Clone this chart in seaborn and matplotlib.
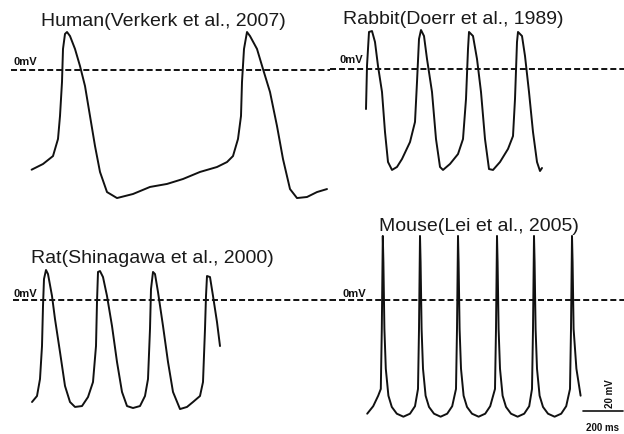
import matplotlib
matplotlib.use("Agg")
import matplotlib.pyplot as plt
import seaborn as sns

# Action potential traces (time in ms, potential in mV)
human_t = [103, 160, 210, 235, 245, 255, 260, 270, 280, 295, 320, 345, 370, 395, 420, 445,
           480, 530, 610, 695, 780, 860, 945, 1030, 1080, 1110, 1135, 1150, 1155, 1165, 1180,
           1195, 1230, 1260, 1295, 1330, 1360, 1395, 1430, 1480, 1530, 1580]
human_v = [-66.8, -63, -57.7, -46.3, -31, -8.3, 13.7, 23.7, 25, 22.3, 13.7, 2.3, -11, -31, -51,
           -68.3, -81.7, -85.7, -83, -78.3, -76.3, -73, -68.3, -65, -61.7, -57.7, -46.3, -31,
           -8.3, 13.7, 25, 22.3, 13.7, 0.3, -15, -37.7, -59.7, -79.7, -85.7, -85, -81.7, -79.7]

rabbit_t = [180, 185, 195, 210, 225, 240, 260, 275, 290, 310, 335, 360, 400, 425, 435, 445,
            455, 470, 485, 510, 530, 550, 565, 600, 640, 665, 680, 690, 695, 715, 735, 755,
            775, 795, 815, 850, 890, 915, 925, 935, 940, 960, 975, 995, 1015, 1035, 1050, 1060]
rabbit_v = [-26.7, 2, 24.7, 25.3, 18, 2, -15.3, -42, -62, -67.3, -65.3, -60, -48.7, -35.3,
            -8.7, 20, 26, 22, 6.7, -15.3, -46.7, -65.3, -67.3, -63.3, -56.7, -46.7, -20, 13.3,
            24.7, 22, 6.7, -15.3, -46.7, -66.7, -67.3, -62, -53.3, -44.7, -20, 18, 24.7, 22,
            8.7, -15.3, -42, -62, -68, -66]

rat_t = [95, 120, 135, 145, 150, 155, 165, 175, 195, 210, 235, 260, 285, 310, 345, 375, 400,
         415, 420, 425, 435, 450, 470, 495, 520, 545, 570, 600, 635, 660, 675, 685, 690, 700,
         710, 725, 750, 775, 800, 835, 870, 900, 935, 950, 960, 965, 970, 985, 1000, 1020, 1035]
rat_v = [-68.2, -64.2, -52.9, -30.9, -4.2, 13.8, 19.8, 17.1, 2.5, -12.9, -34.9, -57.5, -68.2,
         -71.5, -70.9, -64.9, -54.9, -30.9, -1.5, 18.5, 19.1, 15.1, 2.5, -17.5, -41.5, -61.5,
         -70.9, -72.2, -70.9, -64.2, -52.9, -19.5, 7.1, 18.5, 17.1, 5.1, -17.5, -41.5, -61.5,
         -72.9, -71.5, -68.2, -64.2, -54.9, -19.5, 2.5, 15.8, 15.1, 2.5, -14.9, -30.9]

mouse_t = [186, 216, 241, 254,
           259, 264, 267, 272, 279, 292, 309, 334, 367, 400, 425,
           440, 445, 450, 453, 458, 465, 478, 495, 520, 553, 586, 611,
           630, 635, 640, 643, 648, 655, 668, 685, 710, 743, 776, 801,
           825, 830, 835, 838, 843, 850, 863, 880, 905, 938, 971, 996,
           1010, 1015, 1020, 1023, 1028, 1035, 1048, 1065, 1090, 1123, 1156, 1181,
           1200, 1205, 1210, 1213, 1218, 1232, 1253]
mouse_v = [-76, -71, -64, -59.5,
           -19.5, 42.5, 25, -19.5, -46, -64, -71.5, -76, -78, -76, -71,
           -59.5, -19.5, 42.5, 25, -19.5, -46, -64, -71.5, -76, -78, -76, -71,
           -59.5, -19.5, 42.5, 25, -19.5, -46, -64, -71.5, -76, -78, -76, -71,
           -59.5, -19.5, 42.5, 25, -19.5, -46, -64, -71.5, -76, -78, -76, -71,
           -59.5, -19.5, 42.5, 25, -19.5, -46, -64, -71.5, -76, -78, -76, -71,
           -59.5, -19.5, 42.5, 25, -19.5, -46, -64]

titles = ["Human(Verkerk et al., 2007)", "Rabbit(Doerr et al., 1989)",
          "Rat(Shinagawa et al., 2000)", "Mouse(Lei et al., 2005)"]
scale_ms = 200
scale_mv = 20

sns.set_style("white")
plt.rcParams["font.family"] = ["Liberation Sans", "DejaVu Sans"]

W, H = 624, 435
MS_PER_PX = 5.0       # 200 ms scale bar is 40 px wide
MV_PER_PX = 2 / 3     # 20 mV is about 30 px tall
INK = "#111111"

fig = plt.figure(figsize=(W / 100, H / 100), dpi=100)


def add_panel(left, right, top, bottom, zero_y):
    ax = fig.add_axes([left / W, 1 - bottom / H, (right - left) / W, (bottom - top) / H])
    ax.set_xlim(0, (right - left) * MS_PER_PX)
    ax.set_ylim((zero_y - bottom) * MV_PER_PX, (zero_y - top) * MV_PER_PX)
    ax.axis("off")
    return ax


def px_text(x, y, s, **kw):
    fig.text(x / W, 1 - y / H, s, **kw)


# panel boxes in pixels: left, right, top, bottom, y of the 0 mV line
boxes = [(11, 330, 25, 215, 70.5), (330, 624, 25, 215, 70),
         (13, 330, 255, 435, 300.7), (330, 624, 232, 435, 300.7)]
traces = [(human_t, human_v), (rabbit_t, rabbit_v), (rat_t, rat_v), (mouse_t, mouse_v)]
title_xy = [(163, 26), (453, 24), (152, 263), (479, 231)]
zero_xy = [(13, 65), (340, 63), (13, 297), (342, 297)]

axes = []
for box, (t, v), txy, zxy, title in zip(boxes, traces, title_xy, zero_xy, titles):
    ax = add_panel(*box)
    sns.lineplot(x=t, y=v, ax=ax, color=INK, linewidth=1.4, sort=False, estimator=None)
    ax.axhline(0, color=INK, linewidth=1.4, linestyle=(0, (3.1, 1.55)))
    px_text(*txy, title, fontsize=14, color="#1a1a1a", ha="center", va="baseline")
    px_text(*zxy, "0mV", fontsize=8, fontweight="bold", color=INK, ha="left", va="baseline")
    axes.append(ax)

# scale bar in the mouse panel
ax = axes[3]
x_end = ax.get_xlim()[1] - 5
ax.plot([x_end - scale_ms, x_end], [-74, -74], color=INK, linewidth=1.2, clip_on=False)
px_text(603, 428, f"{scale_ms} ms", fontsize=7, fontweight="bold", color=INK,
        ha="center", va="center")
px_text(610, 394, f"{scale_mv} mV", fontsize=7, fontweight="bold", color=INK,
        ha="center", va="center", rotation=90)

fig.savefig("out.png", dpi=100)
